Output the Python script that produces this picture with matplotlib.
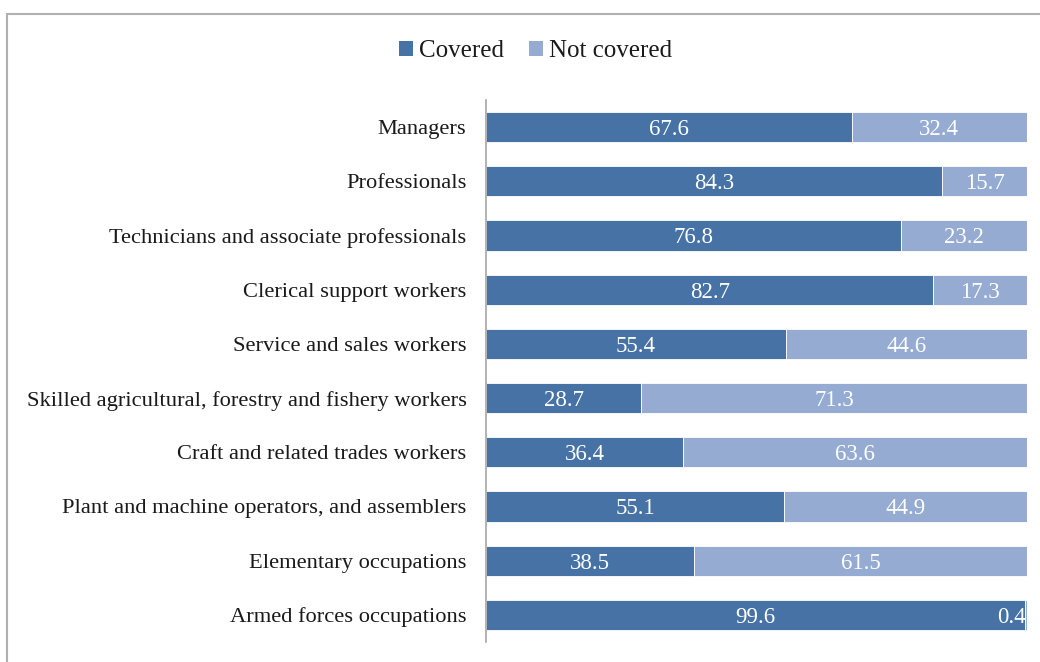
import matplotlib
matplotlib.use("Agg")
import matplotlib.pyplot as plt
from matplotlib.patches import Rectangle, Patch

plt.rcParams['font.family'] = ['Liberation Serif', 'DejaVu Serif']

categories = [
    "Managers",
    "Professionals",
    "Technicians and associate professionals",
    "Clerical support workers",
    "Service and sales workers",
    "Skilled agricultural, forestry and fishery workers",
    "Craft and related trades workers",
    "Plant and machine operators, and assemblers",
    "Elementary occupations",
    "Armed forces occupations",
]
covered = [67.6, 84.3, 76.8, 82.7, 55.4, 28.7, 36.4, 55.1, 38.5, 99.6]
not_covered = [32.4, 15.7, 23.2, 17.3, 44.6, 71.3, 63.6, 44.9, 61.5, 0.4]

c_cov = "#4672A6"
c_not = "#95ABD2"

W, H = 1040, 662
fig = plt.figure(figsize=(W / 100, H / 100), dpi=100)
ax = fig.add_axes([486 / W, 1 - 642 / H, (1027 - 486) / W, (642 - 100) / H])

y = list(range(len(categories)))
bh = 0.56
ax.barh(y, covered, height=bh, color=c_cov, edgecolor="white", linewidth=0.6)
ax.barh(y, not_covered, left=covered, height=bh, color=c_not,
        edgecolor="white", linewidth=0.6)

fs = 16.5
for i, (cv, nc) in enumerate(zip(covered, not_covered)):
    ax.text(cv / 2, i, f"{cv:.1f}", ha="center", va="center_baseline", color="white", fontsize=fs)
    if nc < 2:
        ax.text(cv + nc - 0.3, i, f"{nc:.1f}", ha="right", va="center_baseline", color="white", fontsize=fs)
    else:
        ax.text(cv + nc / 2, i, f"{nc:.1f}", ha="center", va="center_baseline", color="white", fontsize=fs)

ax.set_xlim(0, 100)
ax.set_ylim(len(categories) - 0.5, -0.5)
ax.set_yticks(y)
ax.set_yticklabels(categories, fontsize=16.2, color="#1a1a1a")
ax.tick_params(axis="y", length=0, pad=14)
ax.set_xticks([])
for s in ["top", "right", "bottom"]:
    ax.spines[s].set_visible(False)
ax.spines["left"].set_color("#A6A6A6")
ax.spines["left"].set_linewidth(1.2)

handles = [Patch(facecolor=c_cov, label="Covered"), Patch(facecolor=c_not, label="Not covered")]
fig.legend(handles=handles, loc="center", bbox_to_anchor=(536 / W, 1 - 51 / H), ncol=2,
           frameon=False, prop={"family": "Liberation Serif", "size": 18},
           handlelength=0.55, handleheight=0.55, handletextpad=0.25, columnspacing=1.0,
           labelcolor="#1a1a1a")

# outer frame
fig.patches.append(Rectangle((7 / W, -0.1), 1.2, 1 - 14 / H + 0.1, transform=fig.transFigure,
                             fill=False, edgecolor="#B0B0B0", linewidth=1.5))

fig.savefig("out.png", dpi=100)
